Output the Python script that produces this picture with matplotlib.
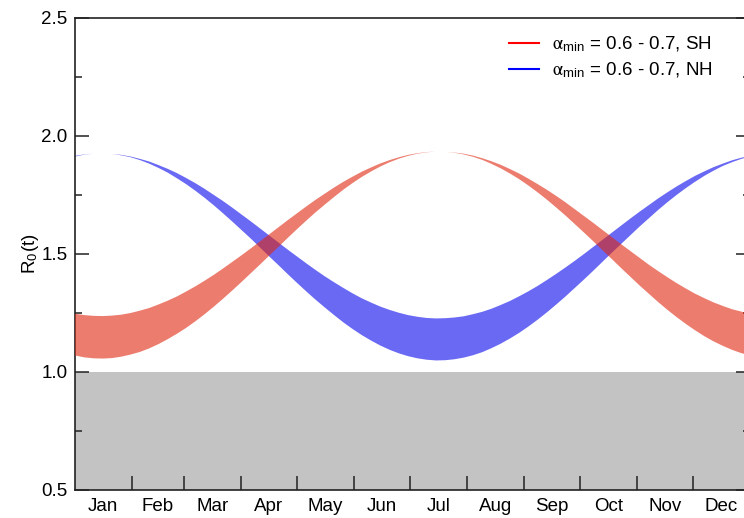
import matplotlib
matplotlib.use("Agg")
import matplotlib.pyplot as plt
from matplotlib.lines import Line2D
from matplotlib.ticker import FixedLocator, MultipleLocator, NullFormatter, FormatStrFormatter

plt.rcParams['font.family'] = ['Liberation Sans', 'DejaVu Sans']
plt.rcParams['mathtext.fontset'] = 'stix'

days = list(range(0, 366, 5))

# northern hemisphere band (blue)
nh_upper = [1.918, 1.924, 1.927, 1.928, 1.926, 1.922, 1.915, 1.905, 1.894, 1.879,
            1.863, 1.845, 1.824, 1.802, 1.778, 1.752, 1.726, 1.698, 1.669, 1.640,
            1.610, 1.580, 1.550, 1.520, 1.491, 1.462, 1.434, 1.407, 1.382, 1.358,
            1.335, 1.314, 1.296, 1.279, 1.265, 1.253, 1.243, 1.236, 1.231, 1.229,
            1.230, 1.233, 1.238, 1.247, 1.257, 1.270, 1.286, 1.303, 1.323, 1.344,
            1.367, 1.392, 1.418, 1.445, 1.473, 1.502, 1.532, 1.562, 1.592, 1.622,
            1.652, 1.681, 1.709, 1.737, 1.763, 1.788, 1.811, 1.833, 1.852, 1.870,
            1.885, 1.899, 1.910, 1.918]
nh_lower = [1.915, 1.923, 1.927, 1.928, 1.926, 1.920, 1.912, 1.900, 1.885, 1.867,
            1.847, 1.823, 1.798, 1.770, 1.740, 1.708, 1.674, 1.639, 1.603, 1.567,
            1.529, 1.491, 1.454, 1.416, 1.379, 1.343, 1.308, 1.275, 1.243, 1.212,
            1.184, 1.158, 1.135, 1.114, 1.096, 1.081, 1.069, 1.060, 1.054, 1.051,
            1.052, 1.056, 1.063, 1.073, 1.086, 1.103, 1.122, 1.144, 1.168, 1.195,
            1.224, 1.255, 1.288, 1.322, 1.358, 1.394, 1.431, 1.469, 1.507, 1.544,
            1.581, 1.618, 1.653, 1.688, 1.721, 1.752, 1.781, 1.808, 1.833, 1.855,
            1.875, 1.891, 1.905, 1.915]

# southern hemisphere band (red)
sh_upper = [1.249, 1.243, 1.240, 1.239, 1.241, 1.245, 1.252, 1.262, 1.273, 1.288,
            1.304, 1.322, 1.343, 1.365, 1.389, 1.414, 1.441, 1.469, 1.497, 1.526,
            1.556, 1.586, 1.616, 1.646, 1.675, 1.704, 1.732, 1.758, 1.784, 1.808,
            1.830, 1.851, 1.869, 1.886, 1.900, 1.912, 1.922, 1.929, 1.934, 1.936,
            1.935, 1.932, 1.927, 1.919, 1.908, 1.895, 1.880, 1.862, 1.843, 1.821,
            1.798, 1.774, 1.748, 1.721, 1.692, 1.663, 1.634, 1.604, 1.574, 1.544,
            1.515, 1.486, 1.457, 1.430, 1.404, 1.379, 1.356, 1.334, 1.315, 1.297,
            1.282, 1.268, 1.258, 1.249]
sh_lower = [1.072, 1.064, 1.060, 1.059, 1.061, 1.067, 1.076, 1.087, 1.102, 1.120,
            1.141, 1.164, 1.189, 1.217, 1.247, 1.279, 1.313, 1.348, 1.384, 1.421,
            1.458, 1.496, 1.533, 1.571, 1.608, 1.644, 1.679, 1.712, 1.744, 1.775,
            1.803, 1.829, 1.852, 1.873, 1.891, 1.906, 1.918, 1.927, 1.933, 1.936,
            1.935, 1.931, 1.924, 1.914, 1.901, 1.884, 1.865, 1.843, 1.819, 1.792,
            1.763, 1.732, 1.699, 1.665, 1.629, 1.593, 1.556, 1.518, 1.481, 1.443,
            1.406, 1.369, 1.334, 1.299, 1.266, 1.235, 1.206, 1.179, 1.154, 1.132,
            1.113, 1.096, 1.082, 1.072]

months = ['Jan', 'Feb', 'Mar', 'Apr', 'May', 'Jun', 'Jul', 'Aug', 'Sep', 'Oct', 'Nov', 'Dec']
month_len = [31, 28, 31, 30, 31, 30, 31, 31, 30, 31, 30, 31]

month_edges = [0]
for n in month_len:
    month_edges.append(month_edges[-1] + n)
month_mid = [(month_edges[i] + month_edges[i + 1]) / 2 for i in range(12)]

fig = plt.figure(figsize=(7.44, 5.18), dpi=100)
ax = fig.add_axes([0.1003, 0.0541, 0.9078, 0.9112])

ax.axhspan(0.5, 1.0, color='#c3c3c3', lw=0, zorder=0)

ax.fill_between(days, nh_lower, nh_upper, color='#0505ee', alpha=0.6, lw=0, zorder=2)
ax.fill_between(days, sh_lower, sh_upper, color='#df250d', alpha=0.6, lw=0, zorder=3)

ax.set_xlim(0, 365)
ax.set_ylim(0.5, 2.5)

# month boundaries carry the tick marks, names sit in the middle of each month
ax.xaxis.set_major_locator(FixedLocator(month_edges[1:-1]))
ax.xaxis.set_major_formatter(NullFormatter())
ax.xaxis.set_minor_locator(FixedLocator(month_mid))
ax.set_xticklabels(months, minor=True)
ax.tick_params(axis='x', which='major', direction='in', length=10, width=1.1, color='#222222')
ax.tick_params(axis='x', which='minor', length=0, pad=6, labelsize=13.5)

ax.yaxis.set_major_locator(MultipleLocator(0.5))
ax.yaxis.set_minor_locator(MultipleLocator(0.25))
ax.yaxis.set_major_formatter(FormatStrFormatter('%.1f'))
ax.tick_params(axis='y', which='both', direction='in', right=True, width=1.1,
               color='#222222', labelsize=13.5, pad=5)
ax.tick_params(axis='y', which='major', length=10)
ax.tick_params(axis='y', which='minor', length=5)

for s in ax.spines.values():
    s.set_linewidth(1.2)
    s.set_color('#222222')

ax.set_ylabel(r'R$_\mathregular{0}$(t)', fontsize=13.5, labelpad=0)

handles = [Line2D([], [], color='red', lw=1.5), Line2D([], [], color='blue', lw=1.5)]
labels = [r'$\mathrm{\alpha}_{\mathregular{min}}$ = 0.6 - 0.7, SH',
          r'$\mathrm{\alpha}_{\mathregular{min}}$ = 0.6 - 0.7, NH']
ax.legend(handles, labels, loc='upper right', bbox_to_anchor=(0.958, 0.985), frameon=False,
          fontsize=13.5, handlelength=1.55, handletextpad=0.7, borderpad=0, labelspacing=0.35)

fig.savefig('out.png', dpi=100)
